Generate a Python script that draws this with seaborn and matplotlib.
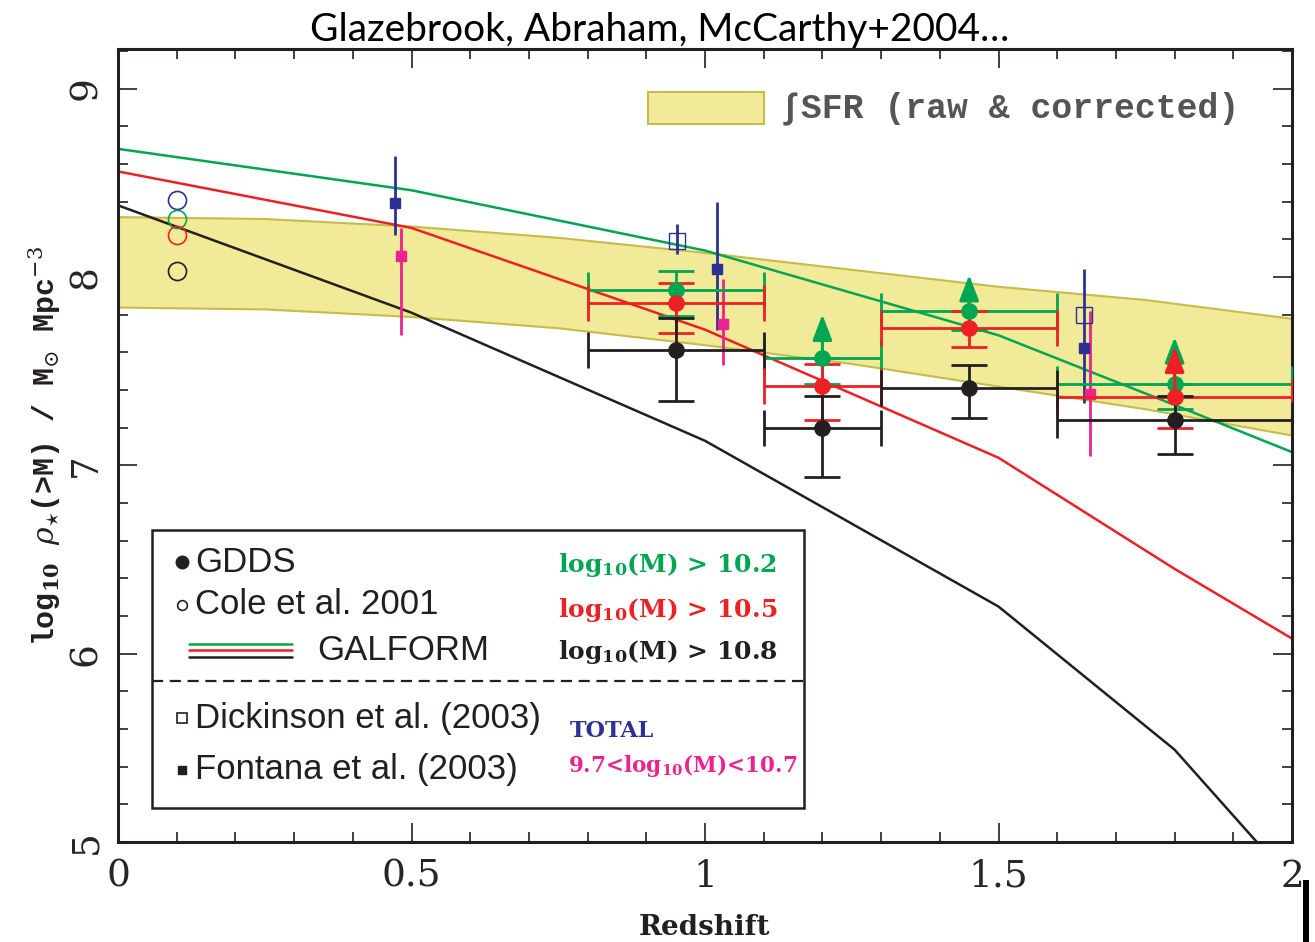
import matplotlib
matplotlib.use("Agg")
import matplotlib.pyplot as plt
import seaborn as sns
import pandas as pd
import numpy as np
from matplotlib.patches import Rectangle

sns.set_theme(style="white")
plt.rcParams['font.family'] = ['DejaVu Sans']
plt.rcParams['mathtext.fontset'] = 'dejavuserif'

# ---------------- data ----------------
z_band = [0.0, 0.25, 0.5, 0.75, 1.0, 1.25, 1.5, 1.75, 2.0]
band_upper = [8.32, 8.31, 8.27, 8.21, 8.13, 8.04, 7.95, 7.88, 7.78]
band_lower = [7.84, 7.83, 7.79, 7.73, 7.64, 7.54, 7.42, 7.30, 7.16]

z_model = [0.0, 0.5, 1.0, 1.5, 1.8, 2.0]
galform_102 = [8.68, 8.46, 8.14, 7.69, 7.32, 7.07]
galform_105 = [8.56, 8.26, 7.72, 7.04, 6.45, 6.08]
galform_108 = [8.38, 7.81, 7.13, 6.25, 5.49, 4.79]

z_gdds = [0.95, 1.2, 1.45, 1.8]
z_gdds_lo = [0.8, 1.1, 1.3, 1.6]
z_gdds_hi = [1.1, 1.3, 1.6, 2.0]
gdds_102 = [7.93, 7.57, 7.82, 7.43]
gdds_102_up = [0.10, 0.0, 0.0, 0.0]
gdds_102_dn = [0.14, 0.14, 0.10, 0.13]
gdds_102_limtop = [None, 7.80, 8.01, 7.68]
gdds_105 = [7.86, 7.42, 7.73, 7.36]
gdds_105_up = [0.11, 0.12, 0.09, 0.0]
gdds_105_dn = [0.16, 0.18, 0.10, 0.16]
gdds_105_limtop = [None, None, None, 7.63]
gdds_108 = [7.61, 7.20, 7.41, 7.24]
gdds_108_up = [0.17, 0.17, 0.12, 0.13]
gdds_108_dn = [0.27, 0.26, 0.16, 0.18]

z_cole = [0.1, 0.1, 0.1, 0.1]
cole_vals = [8.41, 8.31, 8.22, 8.03]
cole_groups = ["TOTAL", ">10.2", ">10.5", ">10.8"]

z_dick = [0.952, 1.646]
dick_vals = [8.19, 7.80]
dick_up = [0.09, 0.0]
dick_dn = [0.07, 0.0]

z_font_tot = [0.472, 1.02, 1.645]
font_tot = [8.39, 8.04, 7.62]
font_tot_up = [0.25, 0.36, 0.42]
font_tot_dn = [0.17, 0.32, 0.29]

z_font_mid = [0.482, 1.03, 1.656]
font_mid = [8.11, 7.75, 7.38]
font_mid_up = [0.15, 0.24, 0.44]
font_mid_dn = [0.42, 0.22, 0.33]

x_ticks = [0, 0.5, 1, 1.5, 2]
x_ticklabels = ["0", "0.5", "1", "1.5", "2"]
y_ticks = [5, 6, 7, 8, 9]
y_ticklabels = ["5", "6", "7", "8", "9"]

# ---------------- colours ----------------
GREEN = '#00A651'
RED = '#ED2024'
BLACK = '#231F20'
BLUE = '#2E3192'
MAGENTA = '#EC2290'
BAND_FILL = '#F1EA98'
BAND_EDGE = '#C5BC4A'

SERIF_C = ['DejaVu Serif Condensed', 'DejaVu Serif']
MONO = ['Liberation Mono', 'DejaVu Sans Mono']

fig = plt.figure(figsize=(13.15, 9.42), dpi=100)
ax = fig.add_axes([118/1315, 1-842/942, 1174/1315, 793/942])

# band
ax.fill_between(z_band, band_lower, band_upper, facecolor=BAND_FILL,
                edgecolor=BAND_EDGE, linewidth=1.5, zorder=1)

# GALFORM lines
df_model = pd.DataFrame({
    'z': z_model * 3,
    'rho': galform_102 + galform_105 + galform_108,
    'cut': ['10.2'] * len(z_model) + ['10.5'] * len(z_model) + ['10.8'] * len(z_model),
})
sns.lineplot(data=df_model, x='z', y='rho', hue='cut',
             palette={'10.2': GREEN, '10.5': RED, '10.8': BLACK},
             linewidth=1.8, legend=False, ax=ax, zorder=2)

# Cole et al. open circles
df_cole = pd.DataFrame({'z': z_cole, 'rho': cole_vals, 'g': cole_groups})
cole_pal = {"TOTAL": BLUE, ">10.2": GREEN, ">10.5": RED, ">10.8": BLACK}
for g, c in cole_pal.items():
    sub = df_cole[df_cole.g == g]
    ax.plot(sub.z, sub.rho, 'o', ms=13, mfc='none', mec=c, mew=1.2, zorder=3)

# Fontana
ax.errorbar(z_font_tot, font_tot, yerr=[font_tot_dn, font_tot_up], fmt='s',
            color=BLUE, ms=7, elinewidth=2, capsize=0, zorder=4)
ax.errorbar(z_font_mid, font_mid, yerr=[font_mid_dn, font_mid_up], fmt='s',
            color=MAGENTA, ms=7, elinewidth=2, capsize=0, zorder=4)
# Dickinson
ax.errorbar(z_dick, dick_vals, yerr=[dick_dn, dick_up], fmt='s', mfc='none',
            mec=BLUE, color=BLUE, ms=11, mew=1.0, elinewidth=2, capsize=0, zorder=4)

# GDDS
xerr_lo = [z - lo for z, lo in zip(z_gdds, z_gdds_lo)]
xerr_hi = [hi - z for z, hi in zip(z_gdds, z_gdds_hi)]
for vals, up, dn, col, lims in [
        (gdds_102, gdds_102_up, gdds_102_dn, GREEN, gdds_102_limtop),
        (gdds_105, gdds_105_up, gdds_105_dn, RED, gdds_105_limtop),
        (gdds_108, gdds_108_up, gdds_108_dn, BLACK, [None] * 4)]:
    ax.errorbar(z_gdds, vals, xerr=[xerr_lo, xerr_hi], yerr=[dn, up], fmt='o',
                color=col, ms=11, elinewidth=2, capsize=13, capthick=2, zorder=5)
    for z, v, top in zip(z_gdds, vals, lims):
        if top is not None:
            ax.annotate('', xy=(z, top), xytext=(z, v),
                        arrowprops=dict(arrowstyle='-|>,head_length=1.3,head_width=0.5',
                                        color=col, lw=2.2, mutation_scale=12,
                                        shrinkA=0, shrinkB=0), zorder=6)

ax.set_xlim(0, 2)
ax.set_ylim(5, 9.21)
ax.set_xticks(x_ticks)
ax.set_xticklabels(x_ticklabels, fontsize=27, family=SERIF_C)
ax.set_yticks(y_ticks)
ax.set_yticklabels(y_ticklabels, fontsize=27, family=SERIF_C, rotation=90, va='center')
ax.set_xticks(np.arange(0, 2.001, 0.1), minor=True)
ax.set_yticks(np.arange(5, 9.21, 0.2), minor=True)
ax.tick_params(which='both', direction='in', top=True, right=True, bottom=True,
               left=True, color=BLACK, width=1.2)
ax.tick_params(which='major', length=14)
ax.tick_params(which='minor', length=7)
ax.tick_params(axis='x', pad=12)
ax.tick_params(axis='y', pad=10)
for s in ax.spines.values():
    s.set_visible(True)
    s.set_color(BLACK)
    s.set_linewidth(2.2)

ax.set_xlabel('Redshift', fontsize=20, family=SERIF_C, fontweight='bold', color=BLACK,
              labelpad=14)
ax.set_ylabel(r'log$_{\mathbf{10}}$ $\rho_{\star}$(>M) / M$_{\odot}$ Mpc$^{-3}$',
              fontsize=21.5, family=MONO, fontweight='bold', color=BLACK)
ax.yaxis.set_label_coords(-0.047, 0.50)

# title
fig.text(660/1315, 1-30/942, 'Glazebrook, Abraham, McCarthy+2004…', ha='center',
         va='center', fontsize=28, family=['Lato', 'DejaVu Sans'], color='black')

# SFR legend (top right)
ax.add_patch(Rectangle((0.4514, 0.905), 0.0989, 0.041, transform=ax.transAxes,
                       facecolor=BAND_FILL, edgecolor=BAND_EDGE, lw=1.5, zorder=7))
ax.text(0.564, 0.926, '∫SFR (raw & corrected)', transform=ax.transAxes, ha='left',
        va='center', fontsize=25, family=MONO, fontweight='bold', color='#555555', zorder=7)

# main legend box
ax.add_patch(Rectangle((0.029, 0.043), 0.555, 0.350, transform=ax.transAxes,
                       facecolor='white', edgecolor=BLACK, lw=1.8, zorder=8))
ax.plot([0.029, 0.584], [0.203, 0.203], transform=ax.transAxes, color=BLACK,
        lw=1.6, ls=(0, (5, 3)), zorder=9)

LX_M = 0.0545
LX_T = 0.066
leg_font = ['Liberation Sans', 'DejaVu Sans']
ax.plot([LX_M], [0.353], 'o', ms=9, color=BLACK, transform=ax.transAxes, zorder=9)
ax.text(LX_T, 0.353, 'GDDS', transform=ax.transAxes, va='center', ha='left',
        fontsize=25, family=leg_font, color=BLACK, zorder=9)
ax.plot([LX_M], [0.299], 'o', ms=7, mfc='none', mec=BLACK, mew=1.2,
        transform=ax.transAxes, zorder=9)
ax.text(LX_T, 0.299, 'Cole et al. 2001', transform=ax.transAxes, va='center',
        ha='left', fontsize=25, family=leg_font, color=BLACK, zorder=9)
for yy, c in [(0.2497, GREEN), (0.2415, RED), (0.2333, BLACK)]:
    ax.plot([0.0605, 0.148], [yy, yy], transform=ax.transAxes, color=c, lw=1.8, zorder=9)
ax.text(0.1695, 0.241, 'GALFORM', transform=ax.transAxes, va='center', ha='left',
        fontsize=25, family=leg_font, color=BLACK, zorder=9)
ax.plot([LX_M], [0.156], 's', ms=7, mfc='none', mec=BLACK, mew=1.2,
        transform=ax.transAxes, zorder=9)
ax.text(LX_T, 0.156, 'Dickinson et al. (2003)', transform=ax.transAxes, va='center',
        ha='left', fontsize=25, family=leg_font, color=BLACK, zorder=9)
ax.plot([LX_M], [0.091], 's', ms=6, color=BLACK, transform=ax.transAxes, zorder=9)
ax.text(LX_T, 0.091, 'Fontana et al. (2003)', transform=ax.transAxes, va='center',
        ha='left', fontsize=25, family=leg_font, color=BLACK, zorder=9)

RX = 0.375
for yy, txt, c in [(0.349, r'log$_{\mathbf{10}}$(M) > 10.2', GREEN),
                   (0.293, r'log$_{\mathbf{10}}$(M) > 10.5', RED),
                   (0.240, r'log$_{\mathbf{10}}$(M) > 10.8', BLACK)]:
    ax.text(RX, yy, txt, transform=ax.transAxes, va='center', ha='left', fontsize=18,
            family=SERIF_C, fontweight='bold', color=c, zorder=9)
ax.text(0.385, 0.140, 'TOTAL', transform=ax.transAxes, va='center', ha='left',
        fontsize=16, family=SERIF_C, fontweight='bold', color=BLUE, zorder=9)
ax.text(0.383, 0.097, r'9.7<log$_{\mathbf{10}}$(M)<10.7', transform=ax.transAxes,
        va='center', ha='left', fontsize=15.5, family=SERIF_C, fontweight='bold',
        color=MAGENTA, zorder=9)

# crop artifact bar at bottom right
fig.patches.append(Rectangle((1303/1315, 0), 6/1315, 62/942, transform=fig.transFigure,
                             facecolor='black', edgecolor='none'))

fig.savefig('out.png', dpi=100, facecolor='white')
